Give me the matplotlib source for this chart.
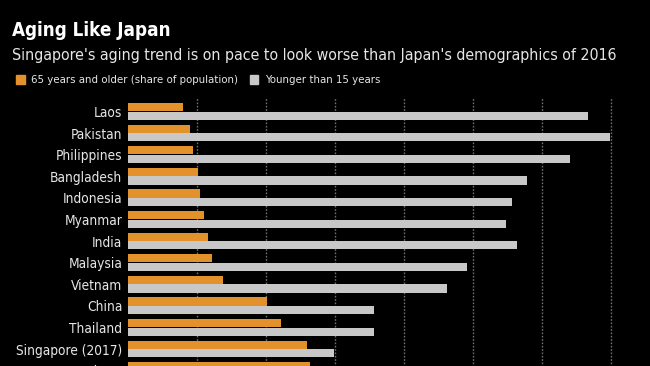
import matplotlib
matplotlib.use("Agg")
from matplotlib import pyplot as plt
from matplotlib.patches import Patch
import numpy as np

countries = ["Laos", "Pakistan", "Philippines", "Bangladesh", "Indonesia", "Myanmar",
             "India", "Malaysia", "Vietnam", "China", "Thailand", "Singapore (2017)", "Taiwan"]
older_65 = [4.0, 4.5, 4.7, 5.1, 5.2, 5.5, 5.8, 6.1, 6.9, 10.1, 11.1, 13.0, 13.2]
younger_15 = [33.3, 34.9, 32.0, 28.9, 27.8, 27.4, 28.2, 24.6, 23.1, 17.8, 17.8, 14.9, 13.3]
grid_ticks = [5, 10, 15, 20, 25, 30, 35]

orange = "#E3912B"
grey = "#C8C8C8"
text_col = "#E6E6E6"

plt.rcParams["font.family"] = ["DejaVu Sans"]
plt.rcParams["font.stretch"] = "condensed"

fig = plt.figure(figsize=(6.5, 3.66), dpi=100, facecolor="black")

# axes runs off the bottom of the figure, like the cropped original
ax = fig.add_axes([128 / 650, -24 / 366, 510 / 650, 293 / 366])
ax.set_facecolor("black")

y = np.arange(len(countries))
bar_h = 0.38
ax.barh(y - 0.2, older_65, height=bar_h, color=orange, zorder=3)
ax.barh(y + 0.2, younger_15, height=bar_h, color=grey, zorder=3)

ax.set_xlim(0, 510 / 13.8)
ax.set_ylim(-0.67 + 293 / 21.6, -0.67)

for t in grid_ticks:
    ax.axvline(t, color="#707070", linestyle=(0, (1.2, 1.2)), linewidth=1.0, zorder=1)

ax.set_yticks(y)
ax.set_yticklabels(countries, color=text_col, fontsize=9.8)
ax.tick_params(axis="y", length=0, pad=4)
ax.set_xticks([])
for s in ax.spines.values():
    s.set_visible(False)

fig.text(12 / 650, 1 - 36 / 366, "Aging Like Japan", color="white", fontsize=13.5,
         fontweight="bold", ha="left", va="baseline")
fig.text(12 / 650, 1 - 60 / 366, "Singapore's aging trend is on pace to look worse than Japan's demographics of 2016",
         color=text_col, fontsize=11.4, ha="left", va="baseline")

handles = [Patch(color=orange, label="65 years and older (share of population)"),
           Patch(color=grey, label="Younger than 15 years")]
fig.legend(handles=handles, loc="center left", bbox_to_anchor=(16 / 650, 1 - 80 / 366),
           ncol=2, frameon=False, fontsize=8.2, labelcolor=text_col,
           handlelength=0.75, handleheight=0.9, handletextpad=0.6, columnspacing=1.0,
           borderaxespad=0, borderpad=0)

fig.savefig("out.png", dpi=100, facecolor="black")
